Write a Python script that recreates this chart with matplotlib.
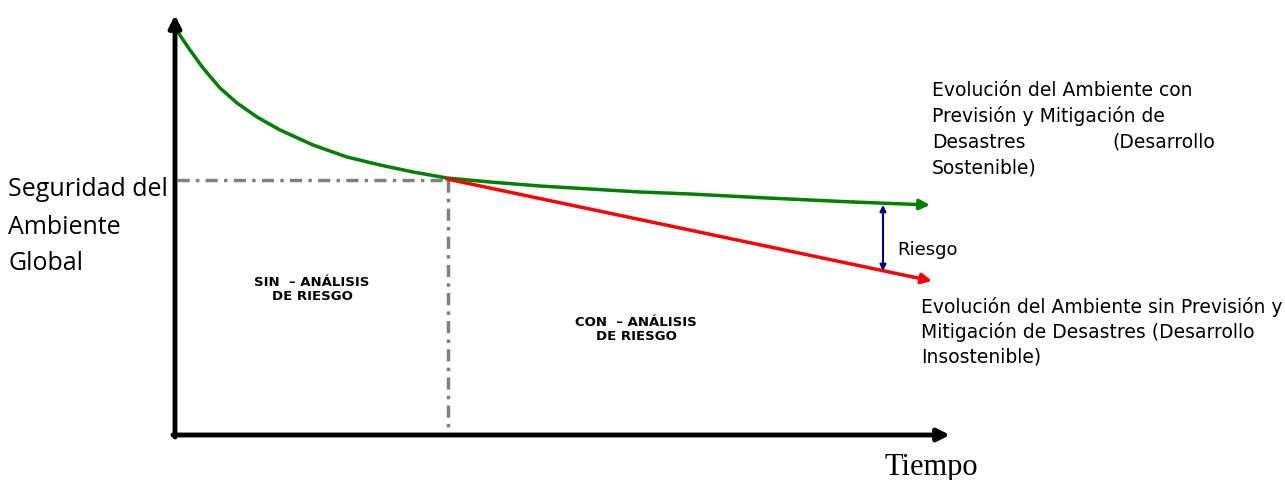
import numpy as np
import matplotlib.pyplot as plt

# curve points (pixel coords, y downwards)
green_x = [175, 190, 203, 220, 237, 257, 280, 313, 347, 380, 413, 447,
           490, 540, 590, 640, 690, 767, 853, 930]
green_y = [28, 50, 68, 88, 103, 117, 130, 145, 157, 165, 172, 178,
           182, 186, 189, 192, 194, 198, 202, 205]
red_x = [447, 932]
red_y = [179, 281]

label_green = ["Evolución del Ambiente con", "Previsión y Mitigación de",
               "Desastres", "Sostenible)"]
label_red = ["Evolución del Ambiente sin Previsión y",
             "Mitigación de Desastres (Desarrollo", "Insostenible)"]
label_y = ["Seguridad del", "Ambiente", "Global"]


def main():
    fig = plt.figure(figsize=(12.85, 4.8), dpi=100)
    ax = fig.add_axes([0, 0, 1, 1])
    ax.set_xlim(0, 1285)
    ax.set_ylim(480, 0)
    ax.axis('off')

    # axes with arrows
    ax.annotate('', xy=(175, 15), xytext=(175, 437),
                arrowprops=dict(arrowstyle='-|>', color='black', lw=3.5,
                                mutation_scale=18, shrinkA=0, shrinkB=0))
    ax.annotate('', xy=(950, 435), xytext=(173, 435),
                arrowprops=dict(arrowstyle='-|>', color='black', lw=3.5,
                                mutation_scale=18, shrinkA=0, shrinkB=0))

    # dash-dot guides
    dd = (0, (3.5, 1.8, 1, 1.8))
    ax.plot([177, 448], [180, 180], color='gray', lw=2.5, ls=dd)
    ax.plot([448, 448], [180, 432], color='gray', lw=2.5, ls=dd)

    # green curve
    ax.plot(green_x[:-1], green_y[:-1], color='green', lw=2.5,
            solid_joinstyle='round', solid_capstyle='round')
    ax.annotate('', xy=(green_x[-1], green_y[-1]), xytext=(green_x[-2], green_y[-2]),
                arrowprops=dict(arrowstyle='-|>', color='green', lw=2.5,
                                mutation_scale=15, shrinkA=0, shrinkB=0))
    # red line
    ax.annotate('', xy=(red_x[1], red_y[1]), xytext=(red_x[0], red_y[0]),
                arrowprops=dict(arrowstyle='-|>', color='red', lw=2.5,
                                mutation_scale=15, shrinkA=0, shrinkB=0))
    # riesgo arrow
    ax.annotate('', xy=(883, 205), xytext=(883, 271),
                arrowprops=dict(arrowstyle='<|-|>', color='navy', lw=1.5,
                                mutation_scale=9, shrinkA=0, shrinkB=0))
    ax.text(897, 250, "Riesgo", fontsize=13, va='center', ha='left')

    for i, s in enumerate(label_green):
        ax.text(932, 90 + 26 * i, s, fontsize=13.5, va='center', ha='left')
    ax.text(1112, 142, "(Desarrollo", fontsize=13.5, va='center', ha='left')
    for i, s in enumerate(label_red):
        ax.text(921, 307 + 25 * i, s, fontsize=13.5, va='center', ha='left')
    for i, s in enumerate(label_y):
        ax.text(8, 190 + 37 * i, s, fontsize=18, va='center', ha='left',
                family='Open Sans')

    ax.text(312, 290, "SIN  – ANÁLISIS\nDE RIESGO", fontsize=9.5, weight='bold',
            ha='center', va='center', linespacing=1.1)
    ax.text(636, 329, "CON  – ANÁLISIS\nDE RIESGO", fontsize=9.5, weight='bold',
            ha='center', va='center', linespacing=1.1)

    ax.text(931, 468, "Tiempo", fontsize=22, ha='center', va='center',
            family='Liberation Serif')

    fig.savefig('out.png', dpi=100)


if __name__ == '__main__':
    main()
